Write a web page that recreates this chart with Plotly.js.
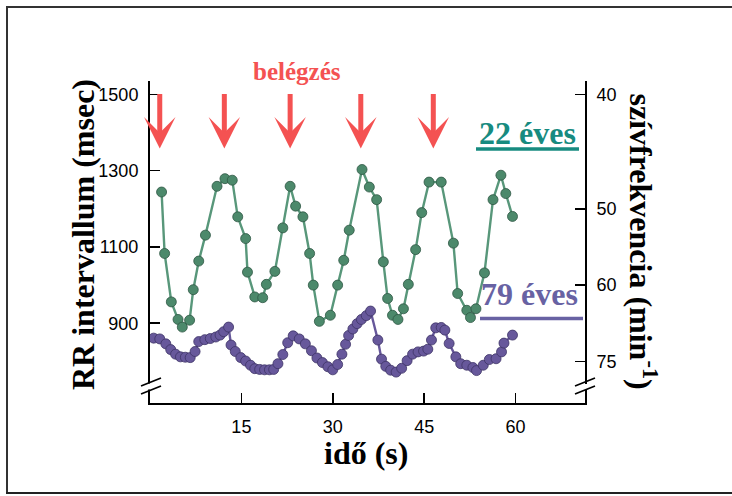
<!DOCTYPE html>
<html>
<head>
<meta charset="utf-8">
<script src="https://cdn.plot.ly/plotly-3.0.1.min.js"></script>
<style>
  html, body { margin: 0; padding: 0; background: #fff; overflow: hidden; width: 732px; height: 496px; }
  #chart { width: 732px; height: 496px; }
  .fl { position: absolute; background: #333; pointer-events: none; }
</style>
</head>
<body>
<div id="chart"></div>
<div class="fl" style="left:6px; top:6px; width:726px; height:1.5px;"></div>
<div class="fl" style="left:6px; top:6px; width:1.5px; height:488px;"></div>
<div class="fl" style="left:6px; top:492px; width:726px; height:2px; background:#222;"></div>
<script>
// time (s) and RR interval (msec) - 22 year old
const t22 = [1.9, 2.4, 3.5, 4.6, 5.3, 6.5, 7.1, 8.0, 9.1, 11.0, 12.3, 13.5, 14.4, 15.7, 16.0, 17.2, 18.5, 19.1, 20.5, 21.8, 23.0, 23.9, 25.1, 26.2, 26.8, 27.8, 29.6, 30.8, 31.8, 32.7, 34.8, 36.0, 37.2, 38.3, 39.0, 39.8, 40.7, 41.6, 42.4, 43.6, 44.6, 45.8, 47.8, 49.8, 50.5, 52.0, 52.6, 53.5, 54.9, 56.3, 57.6, 58.4, 59.5];
const rr22 = [1244, 1083, 956, 910, 890, 908, 988, 1063, 1131, 1259, 1279, 1275, 1179, 1122, 1034, 969, 967, 1002, 1036, 1150, 1259, 1207, 1179, 1083, 1000, 905, 921, 1000, 1065, 1144, 1303, 1257, 1224, 1061, 965, 921, 910, 938, 1002, 1093, 1190, 1270, 1270, 1110, 978, 934, 915, 938, 1032, 1224, 1288, 1240, 1180];

// time (s) and RR interval (msec) - 79 year old
const t79 = [0.6, 1.6, 2.6, 3.4, 4.2, 5.0, 5.8, 6.6, 7.4, 8.0, 9.0, 9.9, 10.8, 11.5, 12.1, 12.9, 13.3, 14.0, 14.9, 15.7, 16.5, 17.2, 18.0, 18.8, 19.6, 20.3, 21.0, 21.8, 22.6, 23.5, 24.5, 25.5, 26.5, 27.4, 28.3, 29.2, 30.0, 30.8, 31.5, 32.1, 32.6, 33.3, 34.0, 34.7, 35.5, 36.2, 37.4, 38.0, 38.7, 39.5, 40.4, 41.3, 42.2, 43.1, 44.0, 44.9, 45.6, 46.2, 46.9, 47.8, 48.4, 49.1, 50.2, 51.0, 52.0, 53.0, 53.6, 54.7, 55.7, 56.8, 57.7, 58.1, 59.5];
const rr79 = [861, 859, 846, 831, 819, 812, 811, 810, 826, 852, 857, 860, 864, 869, 878, 890, 843, 826, 810, 801, 790, 781, 779, 778, 778, 779, 794, 818, 849, 867, 859, 846, 828, 809, 797, 786, 778, 792, 819, 845, 868, 885, 899, 910, 920, 932, 856, 806, 787, 777, 772, 782, 802, 819, 825, 827, 832, 856, 888, 889, 882, 847, 812, 794, 790, 784, 776, 790, 805, 807, 825, 848, 869];

// inspiration (belégzés) moments, s
const breathTimes = [1.6, 12.2, 23.0, 34.6, 46.5];

// tick labels
const xTicks = [15, 30, 45, 60];
const rrTicks = [900, 1100, 1300, 1500];
const hrTicks = [40, 50, 60, 75];   // heart rate, 1/min  (RR = 60000 / HR)

const RED = '#f45252';
const serif = 'Liberation Serif, Times New Roman, serif';
const narrow = 'Liberation Sans Narrow, Arial Narrow, Arial, sans-serif';

const yRange = [691, 1535];

const traces = [
  {
    x: t22, y: rr22, type: 'scatter', mode: 'lines+markers',
    line: {color: '#58977a', width: 2.4},
    marker: {color: '#4c896b', size: 10, line: {color: '#2f5744', width: 0.8}},
    hoverinfo: 'skip', showlegend: false
  },
  {
    x: t79, y: rr79, type: 'scatter', mode: 'lines+markers',
    line: {color: '#66579a', width: 2.4},
    marker: {color: '#67589b', size: 10, line: {color: '#3d3366', width: 0.8}},
    hoverinfo: 'skip', showlegend: false
  },
  {
    x: [null], y: [null], yaxis: 'y2', type: 'scatter', mode: 'markers',
    hoverinfo: 'skip', showlegend: false
  }
];

const annotations = breathTimes.map(t => ({
  x: t, y: 1358, xref: 'x', yref: 'y',
  ax: t, ay: 1505, axref: 'x', ayref: 'y',
  showarrow: true, arrowhead: 3, arrowsize: 1.05, arrowwidth: 5,
  arrowcolor: RED, text: ''
}));

annotations.push(
  {text: '<b>belégzés</b>', x: 0.338, y: 1.031, xref: 'paper', yref: 'paper',
   showarrow: false, xanchor: 'center', yanchor: 'middle',
   font: {family: serif, size: 25, color: RED}},
  {text: '<b>RR intervallum (msec)</b>', x: -0.154, y: 0.5217, xref: 'paper', yref: 'paper',
   showarrow: false, textangle: -90, xanchor: 'center', yanchor: 'middle',
   font: {family: serif, size: 32, color: '#000'}},
  {text: '<b>szívfrekvencia (min<sup>-1</sup>)</b>', x: 1.1333, y: 0.5016, xref: 'paper', yref: 'paper',
   showarrow: false, textangle: 90, xanchor: 'center', yanchor: 'middle',
   font: {family: serif, size: 32, color: '#000'}},
  {text: '<b>idő (s)</b>', x: 0.4966, y: -0.155, xref: 'paper', yref: 'paper',
   showarrow: false, xanchor: 'center', yanchor: 'middle',
   font: {family: serif, size: 32, color: '#000'}},
  {text: '<b>22 éves</b>', x: 0.8667, y: 0.8385, xref: 'paper', yref: 'paper',
   showarrow: false, xanchor: 'center', yanchor: 'middle',
   font: {family: serif, size: 32, color: '#178b80'}},
  {text: '<b>79 éves</b>', x: 0.872, y: 0.3385, xref: 'paper', yref: 'paper',
   showarrow: false, xanchor: 'center', yanchor: 'middle',
   font: {family: serif, size: 32, color: '#6862a3'}}
);

const P = (px) => (px - 150) / 435;   // pixel x -> paper x
const Q = (py) => (403 - py) / 322;   // pixel y -> paper y

const shapes = [
  // underlines of the labels
  {type: 'line', xref: 'paper', yref: 'paper', x0: P(476), x1: P(579), y0: Q(149), y1: Q(149),
   line: {color: '#178b80', width: 3.5}},
  {type: 'line', xref: 'paper', yref: 'paper', x0: P(480), x1: P(583), y0: Q(318.5), y1: Q(318.5),
   line: {color: '#6862a3', width: 3.5}},
  // axis breaks (left)
  {type: 'line', xref: 'paper', yref: 'paper', x0: 0, x1: 0, y0: Q(389.5), y1: Q(383.5),
   line: {color: '#fff', width: 5}},
  {type: 'line', xref: 'paper', yref: 'paper', x0: P(141), x1: P(161), y0: Q(386), y1: Q(378),
   line: {color: '#000', width: 1.8}},
  {type: 'line', xref: 'paper', yref: 'paper', x0: P(141), x1: P(161), y0: Q(394), y1: Q(386),
   line: {color: '#000', width: 1.8}},
  // axis breaks (right)
  {type: 'line', xref: 'paper', yref: 'paper', x0: 1, x1: 1, y0: Q(390), y1: Q(384),
   line: {color: '#fff', width: 5}},
  {type: 'line', xref: 'paper', yref: 'paper', x0: P(575), x1: P(595), y0: Q(386), y1: Q(378),
   line: {color: '#000', width: 1.8}},
  {type: 'line', xref: 'paper', yref: 'paper', x0: P(575), x1: P(595), y0: Q(394), y1: Q(386),
   line: {color: '#000', width: 1.8}}
];

const axisCommon = {
  showgrid: false, zeroline: false, showline: true, linecolor: '#000', linewidth: 2,
  ticks: 'inside', ticklen: 10, tickwidth: 1.6, tickcolor: '#000',
  tickfont: {family: narrow, size: 18, color: '#000'}
};

const layout = {
  width: 732, height: 496,
  margin: {l: 150, r: 147, t: 81, b: 93},
  paper_bgcolor: '#fff', plot_bgcolor: '#fff',
  showlegend: false,
  xaxis: Object.assign({}, axisCommon, {
    range: [0, 71.4], tickmode: 'array', tickvals: xTicks, ticktext: xTicks.map(String),
    ticklabelstandoff: 6
  }),
  yaxis: Object.assign({}, axisCommon, {
    range: yRange, tickmode: 'array', tickvals: rrTicks, ticktext: rrTicks.map(String),
    ticklabelstandoff: 6
  }),
  yaxis2: Object.assign({}, axisCommon, {
    range: yRange, overlaying: 'y', side: 'right', anchor: 'x',
    tickmode: 'array', tickvals: hrTicks.map(h => 60000 / h), ticktext: hrTicks.map(String),
    ticklabelstandoff: 6
  }),
  annotations: annotations,
  shapes: shapes
};

Plotly.newPlot('chart', traces, layout, {staticPlot: true, displayModeBar: false});
</script>
</body>
</html>
